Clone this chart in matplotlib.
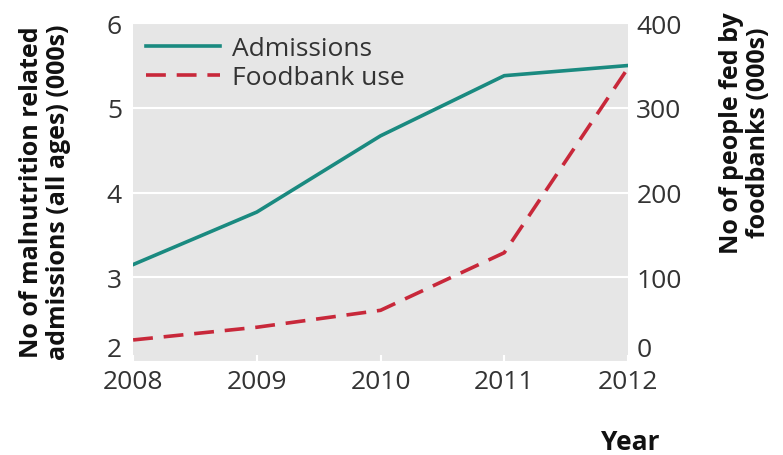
import matplotlib.pyplot as plt

years = [2008, 2009, 2010, 2011, 2012]
admissions = [3.15, 3.77, 4.67, 5.38, 5.50]  # 000s
foodbank = [26, 41, 61, 129, 347]  # 000s

plt.rcParams["font.family"] = ["Open Sans", "DejaVu Sans"]
text_col = "#333333"

fig = plt.figure(figsize=(7.83, 4.56), dpi=100)
ax = fig.add_axes([0.170, 0.204, 0.632, 0.743])
ax2 = ax.twinx()

ax.set_facecolor("#e6e6e6")
for a in (ax, ax2):
    for s in a.spines.values():
        s.set_visible(False)

ax.set_xlim(2008, 2012)
ax.set_ylim(2, 6)
ax2.set_ylim(0, 400)
ax.set_yticks([2, 3, 4, 5, 6])
ax2.set_yticks([0, 100, 200, 300, 400])
ax.set_xticks(years)

ax.grid(axis="y", color="white", linewidth=1.5)
ax.set_axisbelow(True)

ax.tick_params(axis="y", length=0, labelsize=19, labelcolor=text_col, pad=8)
ax2.tick_params(axis="y", length=0, labelsize=19, labelcolor=text_col, pad=6)
ax.tick_params(axis="x", direction="in", length=5, color="white", width=1.5,
               labelsize=19, labelcolor=text_col, pad=5)

# bottom y labels sit a little above their tick, clear of the year labels
ax.get_yticklabels()[0].set_va("bottom")
ax2.get_yticklabels()[0].set_va("bottom")

l1, = ax.plot(years, admissions, color="#1a8a80", lw=2.6, label="Admissions")
l2, = ax2.plot(years, foodbank, color="#c8283a", lw=2.6, dashes=(5.5, 3),
               label="Foodbank use")

leg = ax.legend(handles=[l1, l2], loc="upper left", frameon=False, fontsize=19,
                handlelength=2.8, handletextpad=0.45, labelspacing=0.15,
                borderaxespad=0.1, bbox_to_anchor=(0.0, 1.0))
for t in leg.get_texts():
    t.set_color(text_col)

fig.text(45 / 783, 0.579, "No of malnutrition related\nadmissions (all ages) (000s)",
         fontsize=18, fontweight="bold", color="#111111", rotation=90,
         ha="center", va="center", multialignment="center", linespacing=1.1)
fig.text(745 / 783, 0.708, "No of people fed by\nfoodbanks (000s)",
         fontsize=18, fontweight="bold", color="#111111", rotation=90,
         ha="center", va="center", multialignment="center", linespacing=1.1)
fig.text(630 / 783, 1 - 443 / 456, "Year", fontsize=19, fontweight="bold",
         color="#111111", ha="center", va="center")

fig.savefig("out.png", dpi=100)
